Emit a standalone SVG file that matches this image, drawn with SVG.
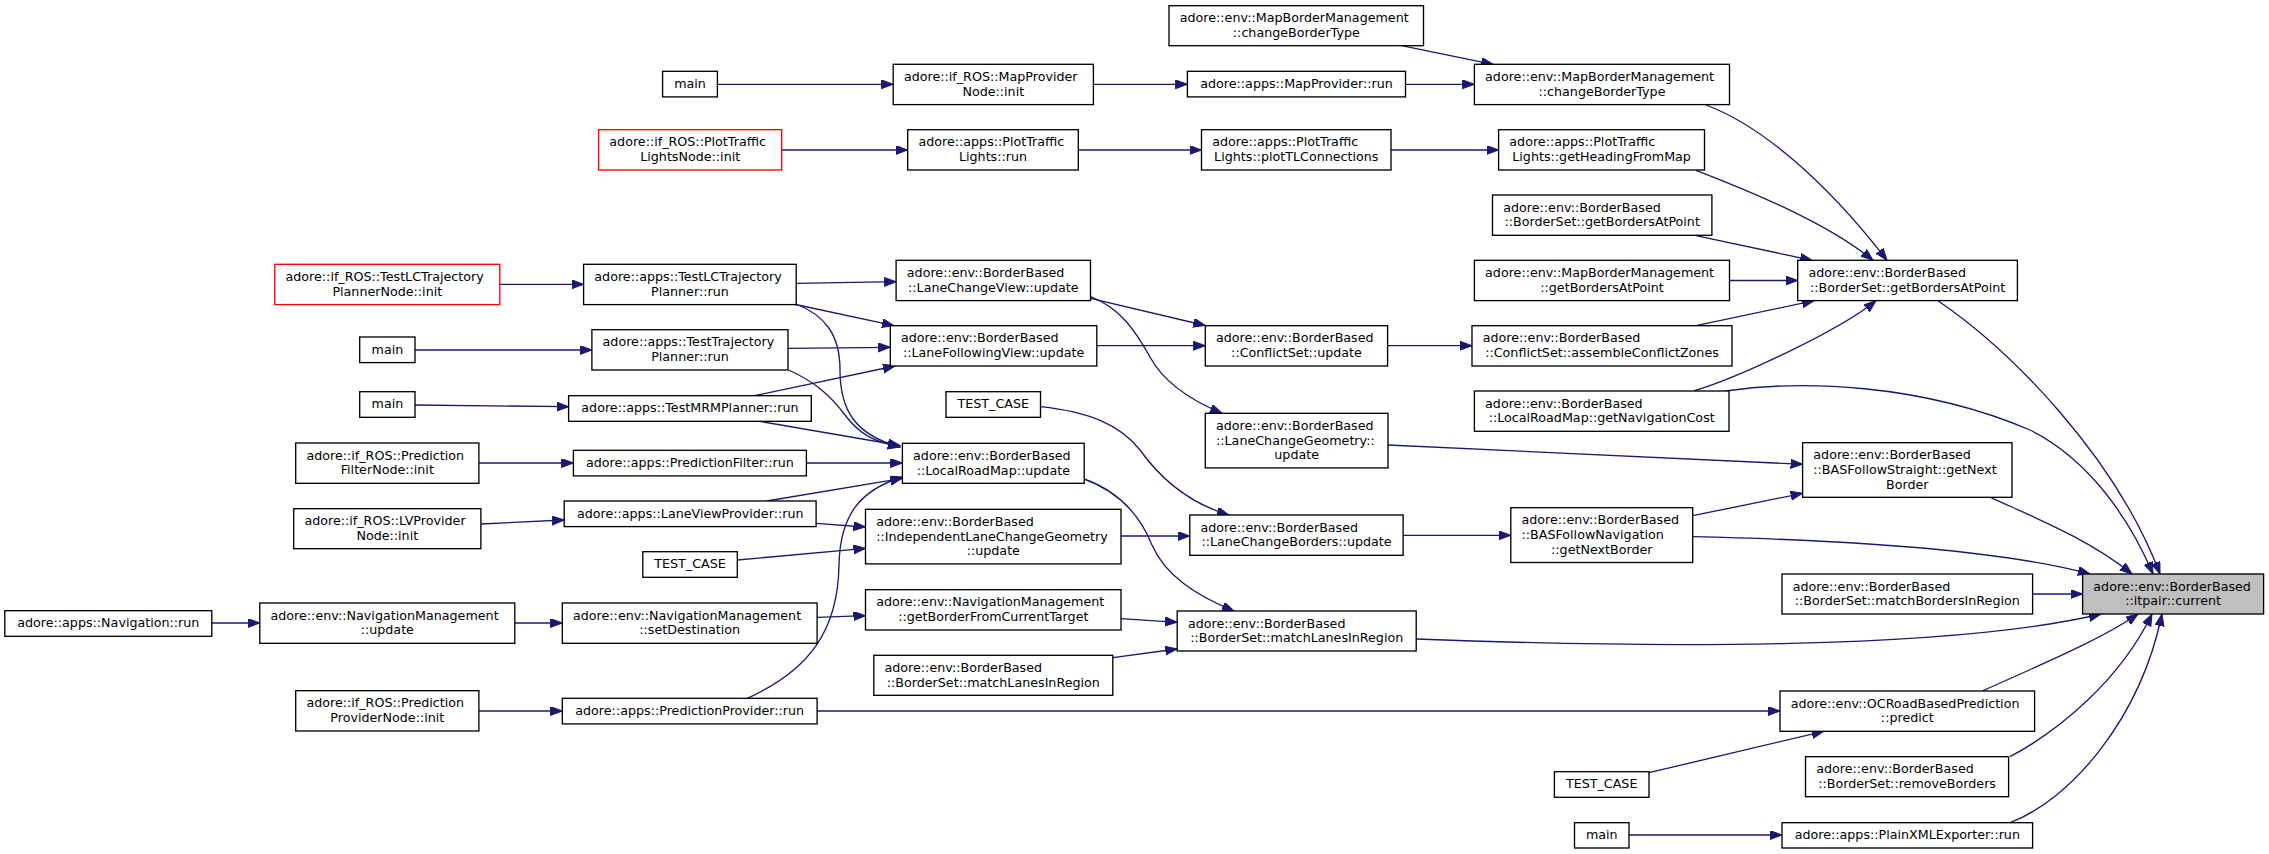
<svg xmlns="http://www.w3.org/2000/svg" width="2269" height="854" viewBox="0 0 2269 854">
<style>
.n rect{fill:#fff;stroke:#000;stroke-width:1.33}
.n.r rect{stroke:#ff0000}
.n.c rect{fill:#bfbfbf}
text{font-family:"DejaVu Sans","Liberation Sans",sans-serif;font-size:12.7px;fill:#000}
.m{text-anchor:middle}
.s{text-anchor:start}
#edges path{fill:none;stroke:#191970;stroke-width:1.33;marker-end:url(#ah)}
</style>
<defs>
<marker id="ah" markerUnits="userSpaceOnUse" markerWidth="13" markerHeight="10" refX="12" refY="4.5" orient="auto">
<path d="M0,0 L12,4.5 L0,9 z" fill="#191970" stroke="#191970" stroke-width="1"/>
</marker>
</defs>
<rect x="0" y="0" width="2269" height="854" fill="#fff"/>
<g id="edges">
<path d="M717.4,84.3 L893.2,84.3"/>
<path d="M1093.4,84.3 L1187.4,84.3"/>
<path d="M1405.5,84.3 L1474.4,84.3"/>
<path d="M1401.6,45.7 L1493,64.3"/>
<path d="M1706,105 C1760,125 1825,180 1887,260.3"/>
<path d="M781.7,150 L907.7,150"/>
<path d="M1078.3,150 L1201.5,150"/>
<path d="M1391,150 L1498.6,150"/>
<path d="M1696,170.3 C1760,195 1830,225 1873,260.3"/>
<path d="M1696,235.7 L1812,260.3"/>
<path d="M1729.5,280.5 L1797.7,280.5"/>
<path d="M1696,325.7 L1814,300.7"/>
<path d="M1693.7,391 C1740,377 1840,330 1876,300.7"/>
<path d="M1938,300.7 C2010,350 2115,455 2160,574"/>
<path d="M1725.6,391 C1800,380 1920,383 2030,430 C2090,460 2130,520 2153,574"/>
<path d="M1692.7,536.7 C1850,540 2000,550 2090,574"/>
<path d="M1990.4,497.3 C2040,520 2090,540 2132,574"/>
<path d="M2032.6,594 L2082.6,594"/>
<path d="M1416.2,639 C1650,648 1950,650 2101,614"/>
<path d="M1983,690.7 C2040,665 2100,640 2138,614"/>
<path d="M2010,756.7 C2060,730 2120,680 2152,614"/>
<path d="M2010,822.7 C2070,800 2140,720 2162,614"/>
<path d="M499.8,284.3 L583.6,284.3"/>
<path d="M796.2,283.3 L896.1,281.7"/>
<path d="M793.3,304 L894,325.7"/>
<path d="M795.7,304 C825,315 840,335 840,370 C840,410 855,435 900,447"/>
<path d="M788.5,370 C815,382 830,395 845,415 C860,435 875,442 900,447"/>
<path d="M788,348.3 L890.3,347.3"/>
<path d="M415,350 L591.9,350"/>
<path d="M415,405 L568.6,406.7"/>
<path d="M754.5,395.7 L895,366"/>
<path d="M759.4,421.3 L900,445.5"/>
<path d="M478.9,463 L573.4,463"/>
<path d="M806.4,463 L902.4,463"/>
<path d="M480.9,524 L564.2,520"/>
<path d="M766.7,501 L902.4,478.3"/>
<path d="M816.1,523.3 L865.5,527"/>
<path d="M737.3,560 L865.5,548.3"/>
<path d="M747.3,698.3 C810,670 838,630 839,565 C840,515 860,490 902.4,477"/>
<path d="M817.1,711 L1780,711"/>
<path d="M1121,536 L1189.8,536"/>
<path d="M1090.5,298.3 L1205.3,325.5"/>
<path d="M1090.5,296.7 C1120,308 1135,330 1150,357 C1165,385 1195,402 1222,413.3"/>
<path d="M1096.8,345.7 L1205.3,345.7"/>
<path d="M1387.6,345.7 L1472,345.7"/>
<path d="M1388,445 L1802.6,464.3"/>
<path d="M1040.5,406.7 C1090,412 1120,425 1140,450 C1165,485 1195,505 1229,515"/>
<path d="M1084.2,479 C1120,492 1140,515 1152,545 C1165,575 1195,595 1234,611"/>
<path d="M1403.1,535.3 L1510.8,535.3"/>
<path d="M1692.7,515.7 L1802.6,493.3"/>
<path d="M211.8,623 L259.8,623"/>
<path d="M514.8,623 L562.3,623"/>
<path d="M817,617.3 L865.5,615.7"/>
<path d="M1121,618.7 L1177.2,622.3"/>
<path d="M1112.8,657.7 L1177.2,649"/>
<path d="M478.9,711 L562.3,711"/>
<path d="M1649,772.7 L1823.7,731.3"/>
<path d="M1629,835 L1782,835"/>
</g>
<g id="cbt1" class="n"><rect x="1169" y="5.7" width="254.5" height="40"/><text class="s" x="1179.7" y="22.2">adore::env::MapBorderManagement</text><text class="m" x="1296.3" y="36.9">::changeBorderType</text></g>
<g id="main1" class="n"><rect x="662.6" y="71.3" width="54.8" height="25.6"/><text class="m" x="690" y="87.8">main</text></g>
<g id="mpn" class="n"><rect x="893.2" y="64.3" width="200.2" height="40.3"/><text class="s" x="903.9" y="80.8">adore::if_ROS::MapProvider</text><text class="m" x="993.3" y="95.5">Node::init</text></g>
<g id="mpr" class="n"><rect x="1187.4" y="71.3" width="218.1" height="25.6"/><text class="m" x="1296.5" y="87.8">adore::apps::MapProvider::run</text></g>
<g id="cbt2" class="n"><rect x="1474.4" y="64.3" width="255.1" height="40.3"/><text class="s" x="1485.1" y="80.8">adore::env::MapBorderManagement</text><text class="m" x="1602" y="95.5">::changeBorderType</text></g>
<g id="ptln" class="n r"><rect x="598.6" y="129.7" width="183.1" height="40.3"/><text class="s" x="609.3" y="146.2">adore::if_ROS::PlotTraffic</text><text class="m" x="690.2" y="160.9">LightsNode::init</text></g>
<g id="ptlr" class="n"><rect x="907.7" y="129.7" width="170.6" height="40.3"/><text class="s" x="918.4" y="146.2">adore::apps::PlotTraffic</text><text class="m" x="993" y="160.9">Lights::run</text></g>
<g id="ptlc" class="n"><rect x="1201.5" y="129.7" width="189.5" height="40.3"/><text class="s" x="1212.2" y="146.2">adore::apps::PlotTraffic</text><text class="m" x="1296.3" y="160.9">Lights::plotTLConnections</text></g>
<g id="ptgh" class="n"><rect x="1498.6" y="129.7" width="205.9" height="40.3"/><text class="s" x="1509.3" y="146.2">adore::apps::PlotTraffic</text><text class="m" x="1601.6" y="160.9">Lights::getHeadingFromMap</text></g>
<g id="bsgp1" class="n"><rect x="1492.5" y="195" width="219.4" height="40.3"/><text class="s" x="1503.2" y="211.5">adore::env::BorderBased</text><text class="m" x="1602.2" y="226.2">::BorderSet::getBordersAtPoint</text></g>
<g id="mbgp" class="n"><rect x="1474.4" y="260.3" width="255.1" height="40.3"/><text class="s" x="1485.1" y="276.8">adore::env::MapBorderManagement</text><text class="m" x="1602" y="291.5">::getBordersAtPoint</text></g>
<g id="hub" class="n"><rect x="1797.7" y="260.3" width="219.7" height="40.3"/><text class="s" x="1808.4" y="276.8">adore::env::BorderBased</text><text class="m" x="1907.6" y="291.5">::BorderSet::getBordersAtPoint</text></g>
<g id="tlcn" class="n r"><rect x="274.8" y="264.3" width="225" height="40.3"/><text class="s" x="285.5" y="280.8">adore::if_ROS::TestLCTrajectory</text><text class="m" x="387.3" y="295.5">PlannerNode::init</text></g>
<g id="tlcr" class="n"><rect x="583.6" y="264.3" width="212.6" height="40.3"/><text class="s" x="594.3" y="280.8">adore::apps::TestLCTrajectory</text><text class="m" x="689.9" y="295.5">Planner::run</text></g>
<g id="lcv" class="n"><rect x="896.1" y="260.3" width="194.4" height="40.3"/><text class="s" x="906.8" y="276.8">adore::env::BorderBased</text><text class="m" x="993.3" y="291.5">::LaneChangeView::update</text></g>
<g id="main2" class="n"><rect x="359.7" y="337" width="55.3" height="25.6"/><text class="m" x="387.4" y="353.5">main</text></g>
<g id="ttr" class="n"><rect x="591.9" y="329.7" width="196.1" height="40.3"/><text class="s" x="602.6" y="346.2">adore::apps::TestTrajectory</text><text class="m" x="690" y="360.9">Planner::run</text></g>
<g id="lfv" class="n"><rect x="890.3" y="325.7" width="206.5" height="40.3"/><text class="s" x="901" y="342.2">adore::env::BorderBased</text><text class="m" x="993.6" y="356.9">::LaneFollowingView::update</text></g>
<g id="csu" class="n"><rect x="1205.3" y="325.7" width="182.3" height="40.3"/><text class="s" x="1216" y="342.2">adore::env::BorderBased</text><text class="m" x="1296.5" y="356.9">::ConflictSet::update</text></g>
<g id="acz" class="n"><rect x="1472" y="325.7" width="260" height="40.3"/><text class="s" x="1482.7" y="342.2">adore::env::BorderBased</text><text class="m" x="1602" y="356.9">::ConflictSet::assembleConflictZones</text></g>
<g id="main3" class="n"><rect x="359.7" y="391.7" width="55.3" height="25.6"/><text class="m" x="387.4" y="408.2">main</text></g>
<g id="mrm" class="n"><rect x="568.6" y="395.7" width="242.7" height="25.6"/><text class="m" x="690" y="412.2">adore::apps::TestMRMPlanner::run</text></g>
<g id="tc1" class="n"><rect x="946" y="391.7" width="94.5" height="25.6"/><text class="m" x="993.3" y="408.2">TEST_CASE</text></g>
<g id="lcg" class="n"><rect x="1205.3" y="413.3" width="182.7" height="54.6"/><text class="s" x="1216" y="429.8">adore::env::BorderBased</text><text class="s" x="1216" y="444.5">::LaneChangeGeometry::</text><text class="m" x="1296.7" y="459.2">update</text></g>
<g id="gnc" class="n"><rect x="1474.4" y="391" width="254.6" height="40.3"/><text class="s" x="1485.1" y="407.5">adore::env::BorderBased</text><text class="m" x="1601.7" y="422.2">::LocalRoadMap::getNavigationCost</text></g>
<g id="pfn" class="n"><rect x="295.7" y="443" width="183.2" height="40.3"/><text class="s" x="306.4" y="459.5">adore::if_ROS::Prediction</text><text class="m" x="387.3" y="474.2">FilterNode::init</text></g>
<g id="pfr" class="n"><rect x="573.4" y="450.3" width="233" height="25.6"/><text class="m" x="689.9" y="466.8">adore::apps::PredictionFilter::run</text></g>
<g id="lrm" class="n"><rect x="902.4" y="443.3" width="181.8" height="40"/><text class="s" x="913.1" y="459.8">adore::env::BorderBased</text><text class="m" x="993.3" y="474.5">::LocalRoadMap::update</text></g>
<g id="bfs" class="n"><rect x="1802.6" y="442.7" width="209.4" height="54.6"/><text class="s" x="1813.3" y="459.2">adore::env::BorderBased</text><text class="s" x="1813.3" y="473.9">::BASFollowStraight::getNext</text><text class="m" x="1907.3" y="488.6">Border</text></g>
<g id="lvn" class="n"><rect x="293.7" y="508.7" width="187.2" height="40"/><text class="s" x="304.4" y="525.2">adore::if_ROS::LVProvider</text><text class="m" x="387.3" y="539.9">Node::init</text></g>
<g id="lvp" class="n"><rect x="564.2" y="501" width="251.9" height="25.6"/><text class="m" x="690.2" y="517.5">adore::apps::LaneViewProvider::run</text></g>
<g id="ilcg" class="n"><rect x="865.5" y="509.3" width="255.5" height="54.6"/><text class="s" x="876.2" y="525.8">adore::env::BorderBased</text><text class="s" x="876.2" y="540.5">::IndependentLaneChangeGeometry</text><text class="m" x="993.3" y="555.2">::update</text></g>
<g id="lcb" class="n"><rect x="1189.8" y="515" width="213.3" height="40.3"/><text class="s" x="1200.5" y="531.5">adore::env::BorderBased</text><text class="m" x="1296.5" y="546.2">::LaneChangeBorders::update</text></g>
<g id="bfn" class="n"><rect x="1510.8" y="507.7" width="181.9" height="54.8"/><text class="s" x="1521.5" y="524.2">adore::env::BorderBased</text><text class="s" x="1521.5" y="538.9">::BASFollowNavigation</text><text class="m" x="1601.8" y="553.6">::getNextBorder</text></g>
<g id="tc2" class="n"><rect x="642.8" y="551.7" width="94.5" height="25.6"/><text class="m" x="690" y="568.2">TEST_CASE</text></g>
<g id="cur" class="n c"><rect x="2082.6" y="574" width="181" height="40"/><text class="s" x="2093.3" y="590.5">adore::env::BorderBased</text><text class="m" x="2173.1" y="605.2">::itpair::current</text></g>
<g id="mbir" class="n"><rect x="1782" y="574" width="250.6" height="40"/><text class="s" x="1792.7" y="590.5">adore::env::BorderBased</text><text class="m" x="1907.3" y="605.2">::BorderSet::matchBordersInRegion</text></g>
<g id="gbct" class="n"><rect x="865.5" y="589.7" width="255.5" height="40.3"/><text class="s" x="876.2" y="606.2">adore::env::NavigationManagement</text><text class="m" x="993.3" y="620.9">::getBorderFromCurrentTarget</text></g>
<g id="navr" class="n"><rect x="4.8" y="610.7" width="207" height="25.6"/><text class="m" x="108.3" y="627.2">adore::apps::Navigation::run</text></g>
<g id="nmu" class="n"><rect x="259.8" y="603" width="255" height="40.3"/><text class="s" x="270.5" y="619.5">adore::env::NavigationManagement</text><text class="m" x="387.3" y="634.2">::update</text></g>
<g id="nmsd" class="n"><rect x="562.3" y="603" width="254.8" height="40.3"/><text class="s" x="573" y="619.5">adore::env::NavigationManagement</text><text class="m" x="689.7" y="634.2">::setDestination</text></g>
<g id="mlir2" class="n"><rect x="1177.2" y="611" width="239" height="40"/><text class="s" x="1187.9" y="627.5">adore::env::BorderBased</text><text class="m" x="1296.7" y="642.2">::BorderSet::matchLanesInRegion</text></g>
<g id="mlir1" class="n"><rect x="873.8" y="655.3" width="239" height="40"/><text class="s" x="884.5" y="671.8">adore::env::BorderBased</text><text class="m" x="993.3" y="686.5">::BorderSet::matchLanesInRegion</text></g>
<g id="ppn" class="n"><rect x="295.7" y="690.7" width="183.2" height="40.3"/><text class="s" x="306.4" y="707.2">adore::if_ROS::Prediction</text><text class="m" x="387.3" y="721.9">ProviderNode::init</text></g>
<g id="ppr" class="n"><rect x="562.3" y="698.3" width="254.8" height="25.6"/><text class="m" x="689.7" y="714.8">adore::apps::PredictionProvider::run</text></g>
<g id="ocp" class="n"><rect x="1780" y="691" width="254.6" height="40.3"/><text class="s" x="1790.7" y="707.5">adore::env::OCRoadBasedPrediction</text><text class="m" x="1907.3" y="722.2">::predict</text></g>
<g id="tc3" class="n"><rect x="1554.4" y="771.7" width="94.6" height="25.6"/><text class="m" x="1601.7" y="788.2">TEST_CASE</text></g>
<g id="rb" class="n"><rect x="1805.5" y="756.7" width="203.1" height="40"/><text class="s" x="1816.2" y="773.2">adore::env::BorderBased</text><text class="m" x="1907.1" y="787.9">::BorderSet::removeBorders</text></g>
<g id="main4" class="n"><rect x="1574.5" y="822.7" width="54.5" height="25.3"/><text class="m" x="1601.8" y="839.2">main</text></g>
<g id="pxml" class="n"><rect x="1782" y="822.7" width="250.6" height="25.3"/><text class="m" x="1907.3" y="839.2">adore::apps::PlainXMLExporter::run</text></g>
</svg>
